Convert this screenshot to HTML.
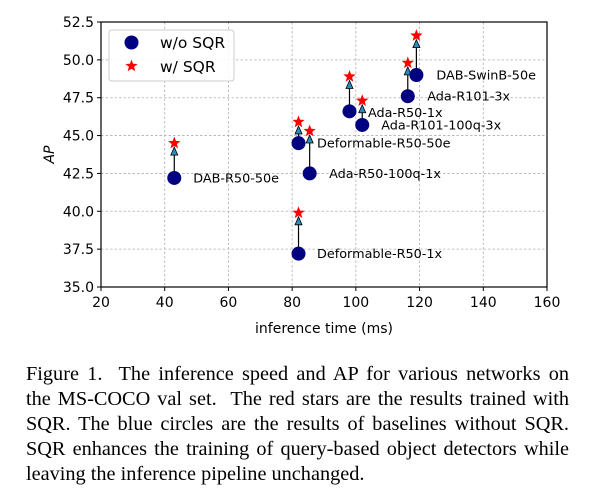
<!DOCTYPE html>
<html><head><meta charset="utf-8">
<style>
body{margin:0;background:#fff;width:606px;height:498px;overflow:hidden;position:relative}
svg{position:absolute;left:0;top:0}
#cap{position:absolute;left:26px;top:362px;width:543px;font-family:"Liberation Serif",serif;font-size:20.3px;line-height:25px;color:#000}
#cap div{text-align:justify;text-align-last:justify;white-space:nowrap}
#cap div.last{text-align-last:left}
</style></head><body>
<svg id="chart" width="606" height="350" font-family="DejaVu Sans, Liberation Sans, sans-serif"></svg>
<div id="cap">
<div>Figure 1.&nbsp; The inference speed and AP for various networks on</div>
<div>the MS-COCO val set.&nbsp; The red stars are the results trained with</div>
<div>SQR. The blue circles are the results of baselines without SQR.</div>
<div>SQR enhances the training of query-based object detectors while</div>
<div class="last">leaving the inference pipeline unchanged.</div>
</div>
<script>
const names=["DAB-R50-50e","Deformable-R50-1x","Deformable-R50-50e","Ada-R50-100q-1x","Ada-R50-1x","Ada-R101-100q-3x","Ada-R101-3x","DAB-SwinB-50e"];
const times=[43,82,82,85.5,98,102,116.3,119];
const apBase=[42.2,37.2,44.5,42.5,46.6,45.7,47.6,49.0];
const apSQR=[44.5,39.9,45.9,45.3,48.9,47.3,49.8,51.6];
const xTicks=[20,40,60,80,100,120,140,160];
const yTicks=[35.0,37.5,40.0,42.5,45.0,47.5,50.0,52.5];
const labelDx=[19,18.5,18.5,19.5,18.5,19,19.5,20];
const labelDy=[0,0,0,0,1,0,0,0];
const L=101,R=547,T=22,B=287;
const xs=v=>L+(v-20)/(160-20)*(R-L);
const ys=v=>B-(v-35)/(52.5-35)*(B-T);
const svg=document.getElementById('chart');
const NS='http://www.w3.org/2000/svg';
function mk(tag,attrs,parent){const e=document.createElementNS(NS,tag);for(const k in attrs)e.setAttribute(k,attrs[k]);(parent||svg).appendChild(e);return e;}
xTicks.forEach(t=>{
  const x=xs(t);
  const g=mk('line',{x1:x,x2:x,y1:T,y2:B,stroke:'#b0b0b0','stroke-dasharray':'2.5,2','stroke-width':0.8});
  
  
  mk('line',{x1:x,x2:x,y1:B,y2:B+4,stroke:'#000'});
  const tx=mk('text',{x:x,y:B+20,'text-anchor':'middle','font-size':14});
  tx.textContent=t;
  
  
});
yTicks.forEach(t=>{
  const y=ys(t);
  const g=mk('line',{x1:L,x2:R,y1:y,y2:y,stroke:'#b0b0b0','stroke-dasharray':'2.5,2','stroke-width':0.8});
  
  
  mk('line',{x1:L-4,x2:L,y1:y,y2:y,stroke:'#000'});
  const tx=mk('text',{x:L-7,y:y+5,'text-anchor':'end','font-size':14});
  tx.textContent=t.toFixed(1);
  
  
});
const fr=mk('rect',{x:L,y:T,width:R-L,height:B-T,fill:'none',stroke:'#000','stroke-width':1.2});


const xl=mk('text',{x:(L+R)/2,y:333,'text-anchor':'middle','font-size':14});
xl.textContent='inference time (ms)';


const yl=mk('text',{x:0,y:0,'text-anchor':'middle','font-size':14,'font-style':'italic',transform:`translate(54,${(T+B)/2}) rotate(-90)`});
yl.textContent='AP';


function star(cx,cy,r){let p=[];for(let i=0;i<10;i++){const a=-Math.PI/2+i*Math.PI/5;const rr=i%2?r*0.42:r;p.push((cx+rr*Math.cos(a)).toFixed(1)+','+(cy+rr*Math.sin(a)).toFixed(1));}return p.join(' ');}
names.forEach((n,i)=>{
  const x=xs(times[i]),y0=ys(apBase[i]),y1=ys(apSQR[i]);
  const ln=mk('line',{x1:x,x2:x,y1:y0,y2:y1+12,stroke:'#000','stroke-width':1.2});
  
  
  const ah=mk('polygon',{points:`${x},${y1+4} ${x-3.5},${y1+12} ${x+3.5},${y1+12}`,fill:'#2b8cbe',stroke:'#000','stroke-width':0.8});
  
  
  const c=mk('circle',{cx:x,cy:y0,r:7,fill:'#000080'});
  
  
  const s=mk('polygon',{points:star(x,y1,6.5),fill:'#ff0000'});
  
  
  const t=mk('text',{x:x+labelDx[i],y:y0+labelDy[i]+4.5,'font-size':12.8});
  t.textContent=n;
  
  
});
const lg=mk('g',{});


mk('rect',{x:109,y:30,width:125,height:51,rx:3,fill:'#fff','fill-opacity':0.85,stroke:'#ccc'},lg);
mk('circle',{cx:131.5,cy:42.5,r:7,fill:'#000080'},lg);
const t1=mk('text',{x:160,y:48,'font-size':15.5},lg);t1.textContent='w/o SQR';


mk('polygon',{points:star(131.5,66,6.5),fill:'#ff0000'},lg);
const t2=mk('text',{x:160,y:72,'font-size':15.5},lg);t2.textContent='w/ SQR';


</script>
</body></html>
